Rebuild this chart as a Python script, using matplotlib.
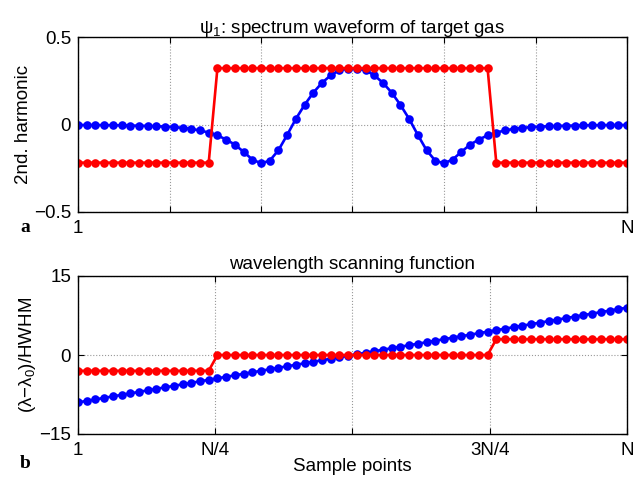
import numpy as np
import matplotlib
matplotlib.use('Agg')
import matplotlib.pyplot as plt

plt.rcParams['font.family'] = ['Liberation Sans', 'DejaVu Sans']
plt.rcParams['mathtext.fontset'] = 'custom'
plt.rcParams['mathtext.rm'] = 'Liberation Sans'
plt.rcParams['mathtext.it'] = 'Liberation Sans'

# sample index 1..N (N = 64)
samples = np.arange(1, 65)

# panel a: second harmonic of the target gas spectrum (blue) and of the scan (red)
harmonic_gas = [-0.003, -0.003, -0.003, -0.004, -0.004, -0.005, -0.006, -0.007,
                -0.008, -0.010, -0.012, -0.015, -0.019, -0.025, -0.034, -0.046,
                -0.062, -0.086, -0.115, -0.156, -0.200, -0.222, -0.207, -0.147,
                -0.060, 0.032, 0.112, 0.182, 0.238, 0.281, 0.310, 0.320,
                0.320, 0.310, 0.281, 0.238, 0.182, 0.112, 0.032, -0.060,
                -0.147, -0.207, -0.222, -0.200, -0.156, -0.115, -0.086, -0.062,
                -0.046, -0.034, -0.025, -0.019, -0.015, -0.012, -0.010, -0.008,
                -0.007, -0.006, -0.005, -0.004, -0.004, -0.003, -0.003, -0.003]
harmonic_step = [-0.218, -0.218, -0.218, -0.218, -0.218, -0.218, -0.218, -0.218,
                 -0.218, -0.218, -0.218, -0.218, -0.218, -0.218, -0.218, -0.218,
                 0.322, 0.322, 0.322, 0.322, 0.322, 0.322, 0.322, 0.322,
                 0.322, 0.322, 0.322, 0.322, 0.322, 0.322, 0.322, 0.322,
                 0.322, 0.322, 0.322, 0.322, 0.322, 0.322, 0.322, 0.322,
                 0.322, 0.322, 0.322, 0.322, 0.322, 0.322, 0.322, 0.322,
                 -0.218, -0.218, -0.218, -0.218, -0.218, -0.218, -0.218, -0.218,
                 -0.218, -0.218, -0.218, -0.218, -0.218, -0.218, -0.218, -0.218]

# panel b: wavelength scanning functions
scan_linear = [-9.00, -8.71, -8.43, -8.14, -7.86, -7.57, -7.29, -7.00,
               -6.71, -6.43, -6.14, -5.86, -5.57, -5.29, -5.00, -4.71,
               -4.43, -4.14, -3.86, -3.57, -3.29, -3.00, -2.71, -2.43,
               -2.14, -1.86, -1.57, -1.29, -1.00, -0.71, -0.43, -0.14,
               0.14, 0.43, 0.71, 1.00, 1.29, 1.57, 1.86, 2.14,
               2.43, 2.71, 3.00, 3.29, 3.57, 3.86, 4.14, 4.43,
               4.71, 5.00, 5.29, 5.57, 5.86, 6.14, 6.43, 6.71,
               7.00, 7.29, 7.57, 7.86, 8.14, 8.43, 8.71, 9.00]
scan_step = [-3, -3, -3, -3, -3, -3, -3, -3, -3, -3, -3, -3, -3, -3, -3, -3,
             0, 0, 0, 0, 0, 0, 0, 0, 0, 0, 0, 0, 0, 0, 0, 0,
             0, 0, 0, 0, 0, 0, 0, 0, 0, 0, 0, 0, 0, 0, 0, 0,
             3, 3, 3, 3, 3, 3, 3, 3, 3, 3, 3, 3, 3, 3, 3, 3]

top_xtick_labels = ['1', '', '', '', '', '', 'N']
bottom_xtick_labels = ['1', 'N/4', '', '3N/4', 'N']

W, H = 644, 478
fig = plt.figure(figsize=(W / 100, H / 100), dpi=100)

def px_axes(left, top, right, bottom):
    return fig.add_axes([left / W, 1 - bottom / H, (right - left) / W, (bottom - top) / H])

ax1 = px_axes(78, 37, 627, 212)
ax2 = px_axes(78, 276, 627, 434)

line_kw = dict(marker='o', markersize=6.2, linewidth=1.9, markeredgewidth=0)

ax1.plot(samples, harmonic_gas, color='#0000ff', **line_kw)
ax1.plot(samples, harmonic_step, color='#ff0000', **line_kw)
ax2.plot(samples, scan_linear, color='#0000ff', **line_kw)
ax2.plot(samples, scan_step, color='#ff0000', **line_kw)

fs = 13.5
ax1.set_xlim(1, 64)
ax1.set_ylim(-0.5, 0.5)
ax1.set_xticks(np.linspace(1, 64, 7))
ax1.set_xticklabels(top_xtick_labels)
ax1.set_yticks([-0.5, 0, 0.5])
ax1.set_yticklabels(['\u22120.5', '0', '0.5'])
ax1.set_ylabel('2nd. harmonic', fontsize=fs, labelpad=1)
ax1.set_title('\u03c8$_1$: spectrum waveform of target gas', fontsize=fs, pad=3)

ax2.set_xlim(1, 64)
ax2.set_ylim(-15, 15)
ax2.set_xticks(np.linspace(1, 64, 5))
ax2.set_xticklabels(bottom_xtick_labels)
ax2.set_yticks([-15, 0, 15])
ax2.set_yticklabels(['\u221215', '0', '15'])
ax2.set_ylabel('(\u03bb\u2212\u03bb$_0$)/HWHM', fontsize=fs, labelpad=1)
ax2.set_xlabel('Sample points', fontsize=fs)
ax2.xaxis.set_label_coords(0.5, -0.15)
ax2.set_title('wavelength scanning function', fontsize=fs, pad=5)

for ax in (ax1, ax2):
    ax.grid(True, linestyle=':', color='#999999', linewidth=0.8)
    ax.tick_params(direction='in', length=4, width=0.8, labelsize=fs,
                   top=True, right=True)
    ax.tick_params(axis='x', pad=6)
    ax.tick_params(axis='y', pad=5)
    for s in ax.spines.values():
        s.set_linewidth(1.0)

fig.text(20 / W, 1 - 227 / H, 'a', fontsize=14, fontweight='bold',
         family='Liberation Serif', va='center', ha='left')
fig.text(20 / W, 1 - 464 / H, 'b', fontsize=14, fontweight='bold',
         family='Liberation Serif', va='center', ha='left')

fig.savefig('out.png', dpi=100)
